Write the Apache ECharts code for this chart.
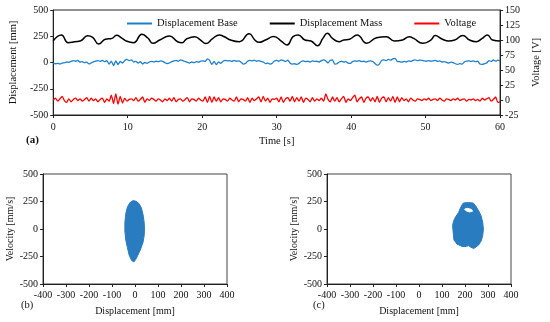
<!DOCTYPE html>
<html>
<head>
<meta charset="utf-8">
<script src="https://cdn.jsdelivr.net/npm/echarts@6/dist/echarts.min.js"></script>
<style>html,body{margin:0;padding:0;background:#fff}#c{width:550px;height:322px}</style>
</head>
<body>
<div id="c"></div>
<script>
// ---------- DATA ----------
const seriesNames = ['Displacement Base', 'Displacement Mass', 'Voltage'];
const timeTicks = [0, 10, 20, 30, 40, 50, 60];
const sampleStep = 0.3; // s between samples of base & voltage traces

// Displacement Base [mm], sampled every 0.3 s from 0 to 60 s
const baseDisp = [
  -5,-12,-8,-15,-6,-3,5,2,10,18,
  12,20,5,8,-2,3,-14,-4,6,12,
  18,10,20,8,18,-15,12,-30,15,-20,
  10,-5,20,30,18,25,5,10,-5,8,
  -15,0,-8,5,10,6,12,8,15,10,
  -2,-10,-4,8,15,20,12,25,18,10,
  2,-5,5,-2,8,3,12,15,10,35,
  20,-18,10,-20,5,-8,12,20,15,18,
  10,20,12,15,5,-15,-10,12,20,15,
  22,12,18,10,5,-10,-5,-15,-8,15,
  20,12,25,18,10,22,-5,-15,-12,-18,
  -8,10,15,8,12,5,15,10,12,5,
  18,25,15,-5,22,25,-15,-12,5,10,
  5,8,-5,-8,10,15,12,18,8,12,
  5,12,15,10,-10,-25,-15,20,25,18,
  30,22,35,40,10,8,3,10,5,15,
  10,20,25,18,22,20,15,12,18,12,
  15,20,10,15,5,8,2,-5,3,-2,
  -12,-18,-10,-15,5,12,15,10,15,8,
  12,-15,-18,-12,-5,18,10,25,12,22,
  15
];

// Voltage [V], sampled every 0.3 s from 0 to 60 s
const voltage = [
  0,3,-2,2,6,-1,-4,2,-3,1,
  3,-1,2,-2,1,4,-2,3,-1,2,
  -3,1,3,-4,2,-2,8,-6,10,-7,
  6,-5,3,-2,1,2,-1,4,-2,1,
  5,-4,2,-1,3,1,-2,2,0,-3,
  2,-1,3,-2,4,-3,1,2,-2,1,
  4,-3,2,1,-2,3,0,-2,5,-4,
  6,-4,5,-2,4,-3,2,1,-2,3,
  0,-2,5,-3,2,1,-2,4,-4,3,
  -1,2,5,-3,6,-2,3,-4,2,1,
  3,-3,5,-4,2,4,-2,6,-3,4,
  -2,5,-4,3,1,-3,4,-2,2,-1,
  3,-2,10,1,-3,5,-2,4,-3,2,
  6,-4,2,-1,4,8,-3,2,5,-4,
  3,5,-2,4,-3,6,-4,3,5,-3,
  4,-2,6,-4,5,-3,4,-1,2,-3,
  3,0,-2,2,1,-1,2,0,3,-1,
  1,2,-1,3,0,-2,2,1,-1,2,
  0,3,-1,1,2,-2,1,0,2,-1,
  1,-2,3,0,2,4,-2,1,5,-4,
  -3
];

// Displacement Mass [mm] read at turning points
const massTime = [0,1.1,2.0,2.9,3.7,4.6,5.3,6.1,7.0,7.9,8.5,9.2,9.9,10.8,11.9,12.7,13.4,14.3,15.6,16.7,17.3,17.9,19.0,19.7,20.5,21.4,22.3,22.9,23.9,25.0,26.3,27.1,27.6,28.5,29.6,30.7,31.4,32.2,32.9,33.8,34.6,35.5,36.2,36.8,37.5,38.4,39.0,39.8,40.8,42.1,43.4,44.7,45.8,46.9,47.8,48.4,49.6,50.7,51.3,52.2,53.1,53.9,55.0,55.9,56.8,57.6,58.3,59.0,60];
const massDisp = [207,262,189,198,207,255,240,176,221,230,259,233,202,189,268,233,183,214,252,198,189,224,246,218,180,228,262,248,212,198,274,212,192,214,248,198,167,246,262,214,205,160,230,278,230,198,214,222,262,183,236,246,205,214,246,230,183,214,256,224,205,214,256,214,198,230,262,214,205];

// Phase portraits: outline of the scatter cloud [displacement mm, velocity mm/s]
const phaseBaseOutline = [[-8,258],[5,252],[18,230],[28,190],[35,130],[40,60],[41,0],[40,-60],[35,-120],[25,-180],[12,-240],[2,-280],[-5,-300],[-15,-285],[-25,-240],[-33,-170],[-40,-100],[-44,-20],[-44,60],[-40,140],[-33,200],[-22,240]];
const phaseMassOutline = [[193,237],[215,240],[236,236],[248,205],[259,167],[270,120],[277,60],[280,0],[277,-61],[270,-110],[259,-146],[238,-177],[225,-165],[216,-152],[200,-160],[187,-158],[165,-137],[152,-100],[150,-61],[146,30],[150,70],[158,106],[172,151],[180,190],[187,219]];
const phaseMassHole = [[198,180],[210,188],[228,178],[233,162],[220,155],[205,165]];

// ---------- CHART ----------
const FONT = '"Liberation Serif","Times New Roman",serif';
const AX = '#222';
const BLUE = '#1a7fd0', SCAT = '#2a7cc0';

const chart = echarts.init(document.getElementById('c'));

const pts = (arr) => arr.map((v, i) => [+(i * sampleStep).toFixed(2), v]);
const massPts = massTime.map((t, i) => [t, massDisp[i]]);

function polygonSeries(outline, color, xi, yi, z) {
  return {
    type: 'custom', coordinateSystem: 'cartesian2d', xAxisIndex: xi, yAxisIndex: yi, z: z,
    silent: true, data: [outline[0]],
    renderItem: (params, api) => ({
      type: 'polygon',
      shape: { points: outline.map(p => api.coord(p)) },
      style: { fill: color, stroke: color, lineWidth: 1 }
    })
  };
}

const lbl = (m) => ({ fontFamily: FONT, fontSize: 10, color: '#111', margin: m });
const nm = (s) => ({ fontFamily: FONT, fontSize: s, color: '#111' });
function ax(extra) {
  return Object.assign({
    type: 'value',
    axisLine: { show: true, onZero: false, lineStyle: { color: AX, width: 1 } },
    axisTick: { show: true, length: 3, lineStyle: { color: AX } },
    splitLine: { show: false },
    nameLocation: 'middle'
  }, extra);
}

chart.setOption({
  animation: false,
  backgroundColor: '#fff',
  textStyle: { fontFamily: FONT },
  legend: {
    data: seriesNames, left: 127, top: 18, padding: 0, itemGap: 32, itemWidth: 25, itemHeight: 2, icon: 'rect',
    textStyle: { fontFamily: FONT, fontSize: 10.5, color: '#111' }
  },
  grid: [
    { left: 50, top: 10, width: 456, height: 105, show: true, borderColor: AX, borderWidth: 1 },
    { left: 43, top: 174, width: 184, height: 110, show: true, borderColor: '#444', borderWidth: 1 },
    { left: 327, top: 174, width: 184, height: 110, show: true, borderColor: '#444', borderWidth: 1 }
  ],
  xAxis: [
    ax({ gridIndex: 0, min: timeTicks[0], max: timeTicks[timeTicks.length-1], interval: 10,
      name: 'Time [s]', nameGap: 21, nameTextStyle: nm(10.5), axisLabel: lbl(7) }),
    ax({ gridIndex: 1, min: -400, max: 400, interval: 100,
      name: 'Displacement [mm]', nameGap: 22, nameTextStyle: nm(10), axisLabel: lbl(6) }),
    ax({ gridIndex: 2, min: -400, max: 400, interval: 100,
      name: 'Displacement [mm]', nameGap: 22, nameTextStyle: nm(10), axisLabel: lbl(6) })
  ],
  yAxis: [
    ax({ gridIndex: 0, min: -500, max: 500, interval: 250,
      name: 'Displacement [mm]', nameGap: 30, nameRotate: 90, nameTextStyle: nm(10.5), axisLabel: lbl(5) }),
    ax({ gridIndex: 0, position: 'right', min: -25, max: 150, interval: 25,
      name: 'Voltage [V]', nameGap: 29, nameRotate: 90, nameTextStyle: nm(10.5), axisLabel: lbl(5) }),
    ax({ gridIndex: 1, min: -500, max: 500, interval: 250,
      name: 'Velocity [mm/s]', nameGap: 25, nameRotate: 90, nameTextStyle: nm(10), axisLabel: lbl(5) }),
    ax({ gridIndex: 2, min: -500, max: 500, interval: 250,
      name: 'Velocity [mm/s]', nameGap: 25, nameRotate: 90, nameTextStyle: nm(10), axisLabel: lbl(5) })
  ],
  series: [
    { name: seriesNames[0], type: 'line', xAxisIndex: 0, yAxisIndex: 0, data: pts(baseDisp), showSymbol: false,
      smooth: 0.2, color: BLUE, lineStyle: { width: 1.3, color: BLUE } },
    { name: seriesNames[1], type: 'line', xAxisIndex: 0, yAxisIndex: 0, data: massPts, showSymbol: false,
      smooth: 0.5, color: '#000', lineStyle: { width: 1.5, color: '#000' } },
    { name: seriesNames[2], type: 'line', xAxisIndex: 0, yAxisIndex: 1, data: pts(voltage), showSymbol: false,
      smooth: 0.2, color: '#ff0000', lineStyle: { width: 1.3, color: '#ff0000' } },
    polygonSeries(phaseBaseOutline, SCAT, 1, 2, 2),
    polygonSeries(phaseMassOutline, SCAT, 2, 3, 2),
    polygonSeries(phaseMassHole, '#ffffff', 2, 3, 3)
  ],
  graphic: [
    { type: 'text', left: 26, top: 135, style: { text: '(a)', font: 'bold 11px ' + FONT, fill: '#111' } },
    { type: 'text', left: 21, top: 300, style: { text: '(b)', font: '10.5px ' + FONT, fill: '#111' } },
    { type: 'text', left: 313, top: 300, style: { text: '(c)', font: '10.5px ' + FONT, fill: '#111' } }
  ]
});
</script>
</body>
</html>
